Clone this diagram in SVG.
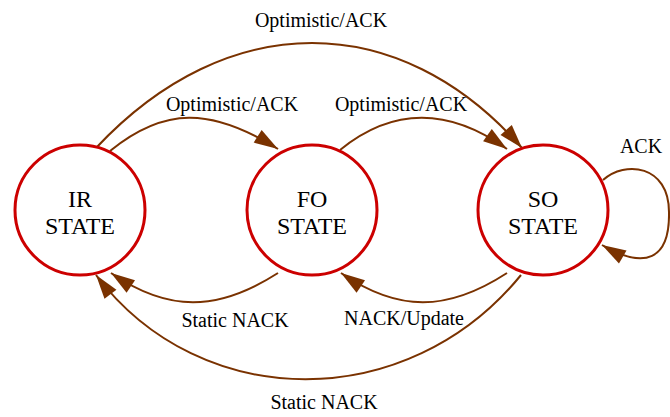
<svg xmlns="http://www.w3.org/2000/svg" width="670" height="417" viewBox="0 0 670 417">
  <style>
    .state circle { fill: #ffffff; stroke: #cc0000; stroke-width: 3; }
    .state text { font-family: "Liberation Serif", "Times New Roman", serif; font-size: 24px; fill: #000000; text-anchor: middle; }
    .edge { fill: none; stroke: #7a3200; stroke-width: 2; marker-end: url(#arrow); }
    .label { font-family: "Liberation Serif", "Times New Roman", serif; font-size: 20px; fill: #000000; text-anchor: middle; }
  </style>
  <defs>
    <marker id="arrow" markerUnits="userSpaceOnUse" markerWidth="26" markerHeight="16" refX="24" refY="7.5" orient="auto" overflow="visible">
      <path d="M0,0 L24,7.5 L0,15 z" fill="#7a3200"/>
    </marker>
  </defs>

  <rect width="670" height="417" fill="#ffffff"/>

  <!-- transitions -->
  <g id="connectors">
    <path class="edge" d="M110,151 C164,107 211,107 278,149"/>
    <path class="edge" d="M340,150 C393,107 448,107 507,149"/>
    <path class="edge" d="M96,148 C227,8 399,8 522,148"/>
    <path class="edge" d="M603,180 C625,160 669,165 669,212 C670,260 645,270 602,245"/>
    <path class="edge" d="M278,273 C217,312 168,312 111,273"/>
    <path class="edge" d="M507,273 C447,312 398,312 341,273"/>
    <path class="edge" d="M521,275 C408,414 201,414 96,275"/>
    <text class="label" x="321" y="27">Optimistic/ACK</text>
    <text class="label" x="232" y="111">Optimistic/ACK</text>
    <text class="label" x="401" y="111">Optimistic/ACK</text>
    <text class="label" x="641" y="153">ACK</text>
    <text class="label" x="235" y="327">Static NACK</text>
    <text class="label" x="404" y="325">NACK/Update</text>
    <text class="label" x="324" y="409">Static NACK</text>
  </g>

  <!-- states -->
  <g id="ir" class="state">
    <circle cx="80" cy="210" r="65"/>
    <text x="80" y="207">IR</text>
    <text x="80" y="234">STATE</text>
  </g>
  <g id="fo" class="state">
    <circle cx="312" cy="210" r="65"/>
    <text x="312" y="207">FO</text>
    <text x="312" y="234">STATE</text>
  </g>
  <g id="so" class="state">
    <circle cx="543" cy="210" r="65"/>
    <text x="543" y="207">SO</text>
    <text x="543" y="234">STATE</text>
  </g>
</svg>
